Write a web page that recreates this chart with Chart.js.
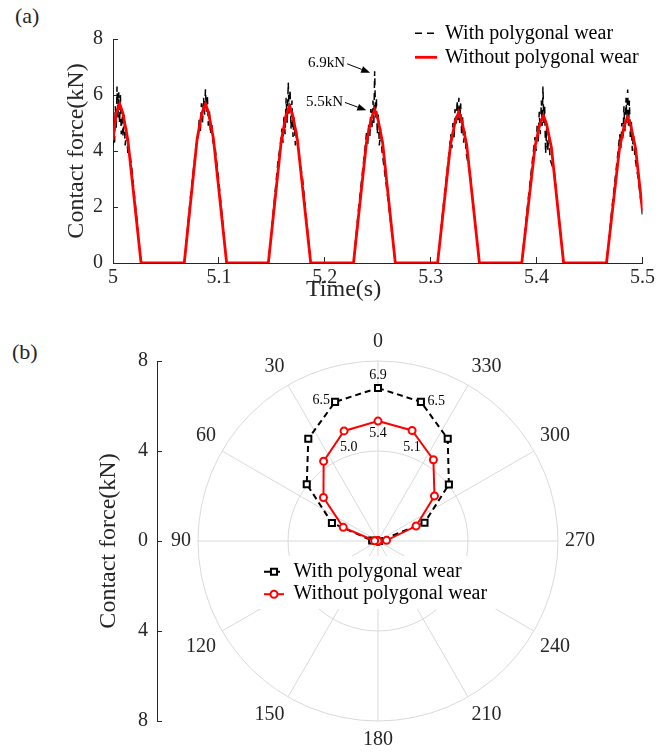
<!DOCTYPE html>
<html>
<head>
<meta charset="utf-8">
<script src="https://cdn.jsdelivr.net/npm/chart.js@4.4.1/dist/chart.umd.min.js"></script>
<style>
  html, body { margin: 0; padding: 0; background: #fff; }
  #page { position: relative; width: 664px; height: 753px; overflow: hidden;
          font-family: "Liberation Serif", "Times New Roman", serif; color: #262626; }
  #page canvas { position: absolute; }
  .tag { position: absolute; font-size: 22px; line-height: 1; }
  .xlabel { position: absolute; font-size: 24px; line-height: 1; white-space: nowrap; }
</style>
</head>
<body>
<div id="page">
  <div class="tag" style="left:15px; top:5px;">(a)</div>
  <div class="tag" style="left:12px; top:341px;">(b)</div>
  <canvas id="chart-a" width="664" height="320" style="left:0; top:0;"></canvas>
  <div class="xlabel" style="left:306px; top:276px;">Time(s)</div>
  <canvas id="axis-b" width="175" height="422" style="left:0; top:330px;"></canvas>
  <canvas id="chart-b" width="434" height="422" style="left:166px; top:330px;"></canvas>
</div>
<script>
// (a) contact force vs time
const timeWith = [
  5.0000, 5.0008, 5.0015, 5.0022, 5.0030, 5.0038, 5.0046, 5.0054, 5.0062, 5.0070, 5.0078, 5.0086, 5.0095, 5.0105, 5.0115, 5.0128, 5.0140, 5.0160, 5.0180, 5.0200, 5.0230, 5.0265,
  5.0673, 5.0730, 5.0770, 5.0790, 5.0805, 5.0815, 5.0825, 5.0835, 5.0845, 5.0855, 5.0865, 5.0873, 5.0882, 5.0891, 5.0900, 5.0910, 5.0920, 5.0932, 5.0945, 5.0965, 5.1000, 5.1073,
  5.1467, 5.1520, 5.1560, 5.1580, 5.1595, 5.1605, 5.1615, 5.1625, 5.1635, 5.1645, 5.1655, 5.1663, 5.1672, 5.1681, 5.1690, 5.1700, 5.1710, 5.1722, 5.1735, 5.1750, 5.1790, 5.1867,
  5.2271, 5.2320, 5.2360, 5.2380, 5.2395, 5.2405, 5.2415, 5.2425, 5.2435, 5.2445, 5.2455, 5.2463, 5.2471, 5.2479, 5.2487, 5.2496, 5.2505, 5.2515, 5.2527, 5.2540, 5.2580, 5.2666,
  5.3065, 5.3115, 5.3155, 5.3175, 5.3190, 5.3200, 5.3210, 5.3220, 5.3230, 5.3240, 5.3250, 5.3258, 5.3266, 5.3274, 5.3283, 5.3292, 5.3301, 5.3311, 5.3323, 5.3336, 5.3375, 5.3460,
  5.3860, 5.3910, 5.3950, 5.3970, 5.3985, 5.3995, 5.4005, 5.4015, 5.4025, 5.4035, 5.4045, 5.4053, 5.4060, 5.4068, 5.4076, 5.4085, 5.4094, 5.4104, 5.4115, 5.4128, 5.4170, 5.4255,
  5.4660, 5.4710, 5.4750, 5.4770, 5.4785, 5.4795, 5.4805, 5.4815, 5.4825, 5.4835, 5.4845, 5.4853, 5.4860, 5.4868, 5.4876, 5.4885, 5.4894, 5.4904, 5.4915, 5.4928, 5.4960, 5.5000
];
const forceWith = [
  4.2, 4.9, 4.3, 5.6, 4.8, 6.3, 5.2, 6.1, 5.0, 6.0, 4.6, 5.5, 4.5, 5.3, 4.2, 4.8, 3.9, 3.9, 3.3, 2.5, 1.4, 0,
  0, 2.3, 3.7, 4.4, 4.5, 5.2, 4.7, 5.7, 5.0, 5.9, 5.3, 6.2, 5.4, 6.0, 4.9, 5.5, 4.6, 5.0, 4.3, 4.1, 2.9, 0,
  0, 2.1, 3.7, 4.2, 4.8, 4.3, 5.3, 4.6, 5.9, 5.0, 6.45, 5.3, 6.2, 4.8, 5.8, 4.5, 5.2, 4.2, 4.6, 4.0, 3.0, 0,
  0, 2.0, 3.4, 4.1, 4.7, 4.2, 5.0, 4.5, 5.5, 4.8, 5.8, 5.0, 6.85, 5.2, 5.9, 4.6, 5.3, 4.2, 4.8, 4.0, 2.8, 0,
  0, 1.9, 3.3, 4.0, 4.6, 4.1, 5.0, 4.4, 5.5, 4.9, 5.8, 5.1, 5.9, 5.0, 5.7, 4.6, 5.2, 4.3, 4.7, 3.9, 3.1, 0,
  0, 1.9, 3.3, 4.0, 4.5, 4.0, 4.9, 4.3, 5.4, 4.6, 5.8, 4.9, 6.3, 5.0, 5.6, 3.9, 4.8, 4.0, 4.5, 3.7, 3.2, 0,
  0, 1.9, 3.3, 4.0, 4.6, 4.1, 5.0, 4.4, 5.6, 4.7, 5.9, 5.0, 6.2, 4.9, 5.8, 4.5, 5.1, 4.0, 4.6, 3.8, 3.0, 1.7
];
const timeWithout = [
  5.0000, 5.0030, 5.0063, 5.0093, 5.0140, 5.0265,
  5.0673, 5.0795, 5.0840, 5.0873, 5.0903, 5.0948, 5.1073,
  5.1467, 5.1590, 5.1634, 5.1667, 5.1697, 5.1742, 5.1867,
  5.2271, 5.2394, 5.2438, 5.2471, 5.2501, 5.2546, 5.2666,
  5.3065, 5.3188, 5.3232, 5.3265, 5.3295, 5.3340, 5.3460,
  5.3860, 5.3985, 5.4030, 5.4065, 5.4095, 5.4140, 5.4255,
  5.4660, 5.4783, 5.4827, 5.4860, 5.4890, 5.4935, 5.5000
];
const forceWithout = [
  4.38, 5.35, 5.69, 5.35, 4.40, 0,
  0, 4.45, 5.35, 5.69, 5.35, 4.45, 0,
  0, 4.40, 5.27, 5.60, 5.27, 4.38, 0,
  0, 4.32, 5.15, 5.48, 5.15, 4.30, 0,
  0, 4.25, 5.06, 5.39, 5.06, 4.22, 0,
  0, 4.15, 4.95, 5.27, 4.95, 4.12, 0,
  0, 4.10, 4.90, 5.21, 4.90, 4.08, 1.85
];
const xTicks = [5, 5.1, 5.2, 5.3, 5.4, 5.5];
const noteText = ['6.9kN', '5.5kN'];
const noteTime = [5.2471, 5.2471];
const noteForce = [6.85, 5.48];

// (b) polar plot of contact force around the wheel
const polarAngle = [0, 17.1, 34.3, 51.4, 68.6, 85.7, 102.9, 120, 137.1, 154.3, 171.4,
  188.6, 205.7, 222.9, 240, 257.1, 274.3, 291.4, 308.6, 325.7, 342.9];
const polarWith = [6.8, 6.47, 5.5, 4.05, 2.2, 0.26, 0, 0, 0, 0, 0,
  0, 0, 0, 0, 0, 0.05, 2.22, 4.03, 5.5, 6.47];
const polarWithout = [5.33, 5.12, 4.29, 3.1, 1.66, 0.15, 0, 0, 0, 0, 0,
  0, 0, 0, 0, 0, 0.38, 1.82, 3.21, 4.37, 5.14];
const polarNoteText = ['6.9', '6.5', '6.5', '5.4', '5.0', '5.1'];

const INK = '#262626';
Chart.defaults.font.family = '"Liberation Serif", "Times New Roman", serif';
Chart.defaults.font.size = 20;
Chart.defaults.color = INK;

// radar slots: 84 per turn so that both 30 deg grid and 360/21 deg samples land on a slot
const SLOTS = 84;
const SLOT_DEG = 360 / SLOTS;
const slotOf = a => Math.round(((360 - a) % 360) / SLOT_DEG) % SLOTS;
const toSlots = vals => {
  const arr = new Array(SLOTS).fill(null);
  polarAngle.forEach((a, k) => { arr[slotOf(a)] = vals[k]; });
  return arr;
};

const innerLegend = {
  id: 'innerLegend',
  afterDraw(chart, args, opts) {
    const { ctx } = chart;
    const polar = opts.polar;
    const ox = polar ? chart.scales.r.xCenter : 0;
    const oy = polar ? chart.scales.r.yCenter : 0;
    ctx.save();
    if (opts.box) {
      ctx.fillStyle = '#fff';
      ctx.fillRect(ox + opts.box[0], oy + opts.box[1], opts.box[2], opts.box[3]);
    }
    ctx.font = '20px "Liberation Serif", serif';
    ctx.textBaseline = 'middle';
    chart.data.datasets.forEach((ds, i) => {
      const y = oy + opts.y + i * opts.rowGap;
      const x0 = ox + opts.x, x1 = x0 + opts.lineLength;
      ctx.lineWidth = ds.borderWidth;
      ctx.strokeStyle = ds.borderColor;
      ctx.setLineDash(ds.borderDash || []);
      ctx.beginPath(); ctx.moveTo(x0, y); ctx.lineTo(x1, y); ctx.stroke();
      ctx.setLineDash([]);
      if (polar) {
        ctx.fillStyle = ds.pointBackgroundColor;
        ctx.strokeStyle = ds.pointBorderColor;
        ctx.lineWidth = ds.pointBorderWidth;
        Chart.helpers.drawPoint(ctx, { pointStyle: ds.pointStyle, radius: ds.pointRadius,
          borderWidth: ds.pointBorderWidth, rotation: 0 }, (x0 + x1) / 2, y);
      }
      ctx.fillStyle = '#000';
      ctx.fillText(ds.label, x1 + opts.textGap, y);
    });
    ctx.restore();
  }
};

function drawArrow(ctx, x0, y0, x1, y1) {
  const ang = Math.atan2(y1 - y0, x1 - x0);
  const len = 9, half = 3.5;
  const bx = x1 - len * Math.cos(ang), by = y1 - len * Math.sin(ang);
  ctx.beginPath(); ctx.moveTo(x0, y0); ctx.lineTo(bx, by); ctx.stroke();
  ctx.beginPath();
  ctx.moveTo(x1, y1);
  ctx.lineTo(bx + half * Math.sin(ang), by - half * Math.cos(ang));
  ctx.lineTo(bx - half * Math.sin(ang), by + half * Math.cos(ang));
  ctx.closePath(); ctx.fill();
}

// arrow callouts on the peak of the 4th wheel pass
const arrowNotes = {
  id: 'arrowNotes',
  afterDatasetsDraw(chart) {
    const { ctx, scales: { x, y } } = chart;
    const tip = [[-4.5, 1.5], [-8.4, 0.7]];
    const txt = [[-25, -9.4], [-23.3, -8.3]];
    ctx.save();
    ctx.font = '15px "Liberation Serif", serif';
    ctx.textAlign = 'right';
    ctx.textBaseline = 'middle';
    ctx.fillStyle = '#000';
    ctx.strokeStyle = '#000';
    ctx.lineWidth = 1;
    noteText.forEach((t, i) => {
      const px = x.getPixelForValue(noteTime[i]) + tip[i][0];
      const py = y.getPixelForValue(noteForce[i]) + tip[i][1];
      const tx = px + txt[i][0], ty = py + txt[i][1];
      ctx.fillText(t, tx, ty);
      drawArrow(ctx, tx + 2, ty + 0.5, px, py);
    });
    ctx.restore();
  }
};

const polarNotes = {
  id: 'polarNotes',
  afterDatasetsDraw(chart) {
    const { ctx } = chart;
    const place = [
      { ds: 0, k: 0, dx: 0, dy: -12.5, align: 'center' },
      { ds: 0, k: 1, dx: -5, dy: -1.5, align: 'right' },
      { ds: 0, k: 20, dx: 6.5, dy: -0.5, align: 'left' },
      { ds: 1, k: 0, dx: 0, dy: 12.5, align: 'center' },
      { ds: 1, k: 1, dx: 4.7, dy: 16, align: 'center' },
      { ds: 1, k: 20, dx: 0, dy: 17, align: 'center' }
    ];
    ctx.save();
    ctx.font = '14px "Liberation Serif", serif';
    ctx.textBaseline = 'middle';
    ctx.fillStyle = '#000';
    place.forEach((p, i) => {
      const el = chart.getDatasetMeta(p.ds).data[slotOf(polarAngle[p.k])];
      ctx.textAlign = p.align;
      ctx.fillText(polarNoteText[i], el.x + p.dx, el.y + p.dy);
    });
    ctx.restore();
  }
};

const pts = (ts, fs) => ts.map((t, i) => ({ x: t, y: fs[i] }));

new Chart(document.getElementById('chart-a'), {
  type: 'line',
  data: {
    datasets: [
      { label: 'With polygonal wear', data: pts(timeWith, forceWith), borderColor: '#000',
        borderWidth: 1.5, borderDash: [7, 5], pointRadius: 0, order: 2 },
      { label: 'Without polygonal wear', data: pts(timeWithout, forceWithout), borderColor: '#ff0000',
        borderWidth: 2.8, pointRadius: 0, order: 1 }
    ]
  },
  options: {
    responsive: false,
    animation: false,
    layout: { padding: { left: 0, right: 16, top: 39, bottom: 0 } },
    plugins: {
      legend: { display: false },
      tooltip: { enabled: false },
      innerLegend: { x: 415, y: 33.3, rowGap: 24, lineLength: 22, textGap: 8 }
    },
    scales: {
      x: {
        type: 'linear', min: 5, max: 5.5,
        afterFit: s => { s.height = 57; },
        afterBuildTicks: s => { s.ticks = xTicks.map(v => ({ value: v })); },
        border: { color: INK },
        grid: { drawOnChartArea: false, tickLength: -6, color: INK },
        ticks: { padding: 9, callback: v => String(Number(v.toFixed(1))) }
      },
      y: {
        min: 0, max: 8,
        afterFit: s => { s.width = 113; },
        border: { color: INK },
        grid: { drawOnChartArea: false, tickLength: -5, color: INK },
        ticks: { stepSize: 2, padding: 15 },
        title: { display: true, text: 'Contact force(kN)', font: { size: 24 }, padding: { top: 62.6, bottom: 0 } }
      }
    }
  },
  plugins: [innerLegend, arrowNotes]
});

const chartB = new Chart(document.getElementById('chart-b'), {
  type: 'radar',
  data: {
    labels: Array.from({ length: SLOTS }, (_, i) => Math.round((360 - i * SLOT_DEG) % 360)),
    datasets: [
      { label: 'With polygonal wear', data: toSlots(polarWith), borderColor: '#000', borderWidth: 2,
        borderDash: [6, 4], pointStyle: 'rect', pointRadius: 4.3, pointBorderWidth: 2,
        pointBorderColor: '#000', pointBackgroundColor: '#fff', fill: false, spanGaps: true, order: 2 },
      { label: 'Without polygonal wear', data: toSlots(polarWithout), borderColor: '#ff0000', borderWidth: 2,
        pointStyle: 'circle', pointRadius: 3.5, pointBorderWidth: 2,
        pointBorderColor: '#ff0000', pointBackgroundColor: '#fff', fill: false, spanGaps: true, order: 1 }
    ]
  },
  options: {
    responsive: false,
    animation: false,
    elements: { line: { tension: 0 } },
    plugins: {
      legend: { display: false },
      tooltip: { enabled: false },
      innerLegend: { polar: true, x: -114, y: 30.7, rowGap: 22.5, lineLength: 20, textGap: 9.5,
        box: [-118, 15, 236, 53] }
    },
    scales: {
      r: {
        min: 0, max: 8,
        startAngle: 0,
        ticks: { display: false, stepSize: 4 },
        grid: { circular: true, color: '#d9d9d9' },
        angleLines: { color: '#d9d9d9', lineWidth: c => (c.index % 7 === 0 ? 1 : 0) },
        pointLabels: { font: { size: 20 }, color: INK, padding: 7,
          callback: (label, i) => (i % 7 === 0 ? String(label) : []) }
      }
    }
  },
  plugins: [innerLegend, polarNotes]
});

// place the polar canvas on its centre and build the left axis to match its radius
const rScale = chartB.scales.r;
const bLeft = Math.round(377.5 - rScale.xCenter);
const bTop = Math.round(541 - rScale.yCenter);
chartB.canvas.style.left = bLeft + 'px';
chartB.canvas.style.top = bTop + 'px';

const axisCanvas = document.getElementById('axis-b');
axisCanvas.style.top = bTop + 'px';
new Chart(axisCanvas, {
  type: 'scatter',
  data: { datasets: [] },
  options: {
    responsive: false,
    animation: false,
    layout: { padding: { left: 0, right: 0,
      top: rScale.yCenter - rScale.drawingArea,
      bottom: axisCanvas.height - (rScale.yCenter + rScale.drawingArea) } },
    plugins: { legend: { display: false }, tooltip: { enabled: false } },
    scales: {
      x: { display: false },
      y: {
        min: -8, max: 8,
        afterFit: s => { s.width = 157; },
        border: { color: INK },
        grid: { drawOnChartArea: false, tickLength: -5, color: INK },
        ticks: { stepSize: 4, padding: 14, callback: v => String(Math.abs(v)) },
        title: { display: true, text: 'Contact force(kN)', font: { size: 24 }, padding: { top: 94.6, bottom: 0 } }
      }
    }
  }
});
</script>
</body>
</html>
